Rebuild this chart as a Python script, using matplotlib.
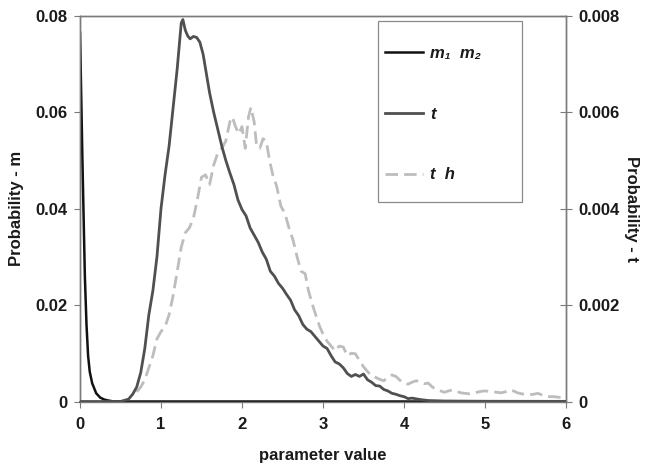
import matplotlib
matplotlib.use("Agg")
import matplotlib.pyplot as plt
from matplotlib.lines import Line2D
from matplotlib.patches import Rectangle

plt.rcParams['font.family'] = ['Liberation Sans', 'DejaVu Sans']
plt.rcParams['font.weight'] = 'bold'

# --- m posterior (left axis) ---
m_x = [0.0, 0.01, 0.02, 0.03, 0.04, 0.05, 0.06, 0.08, 0.10, 0.12, 0.15,
       0.20, 0.25, 0.30, 0.35, 0.40, 0.50, 6.0]
m_y = [0.0765, 0.068, 0.059, 0.050, 0.042, 0.034, 0.026, 0.016, 0.0095,
       0.0062, 0.0038, 0.0017, 0.0008, 0.0004, 0.0002, 0.00005, 0.0, 0.0]

# --- t posterior (right axis) ---
t_x = [0.0, 0.5, 0.6, 0.65, 0.7, 0.75, 0.8, 0.85, 0.9, 0.95, 1.0, 1.05,
       1.1, 1.15, 1.2, 1.25, 1.27, 1.3, 1.33, 1.36, 1.4, 1.44, 1.48, 1.52,
       1.56, 1.6, 1.65, 1.7, 1.75, 1.8, 1.85, 1.9, 1.95, 2.0, 2.05, 2.1,
       2.15, 2.2, 2.25, 2.3, 2.35, 2.4, 2.45, 2.5, 2.55, 2.6, 2.65, 2.7,
       2.75, 2.8, 2.85, 2.9, 2.95, 3.0, 3.05, 3.1, 3.15, 3.2, 3.25, 3.3,
       3.35, 3.4, 3.45, 3.5, 3.55, 3.6, 3.65, 3.7, 3.75, 3.8, 3.85, 3.9,
       3.95, 4.0, 4.05, 4.1, 4.2, 4.3, 4.5, 5.0, 6.0]
t_y = [0.0, 0.0, 0.00005, 0.00015, 0.0003, 0.0006, 0.0011, 0.0018,
       0.0023, 0.0030, 0.0040, 0.0047, 0.0053, 0.0061, 0.0069, 0.00785,
       0.00792, 0.0077, 0.00758, 0.00752, 0.00757, 0.00755, 0.00745,
       0.0072, 0.0068, 0.0064, 0.0060, 0.00565, 0.0053, 0.0050, 0.00474,
       0.0045, 0.00418, 0.00398, 0.00385, 0.0036, 0.00345, 0.0033, 0.0031,
       0.00295, 0.0027, 0.0026, 0.00245, 0.00235, 0.00222, 0.0021, 0.0019,
       0.00178, 0.0016, 0.0015, 0.00145, 0.00135, 0.00125, 0.00115,
       0.0011, 0.00095, 0.00082, 0.00078, 0.0007, 0.00058, 0.00052,
       0.00056, 0.00052, 0.00057, 0.00045, 0.0004, 0.00033, 0.00032,
       0.00025, 0.00022, 0.00017, 0.00015, 0.00012, 0.0001, 0.00006,
       0.00007, 0.00004, 0.00002, 0.00001, 0.000005, 0.000003]

# --- t posterior, second model (right axis) ---
th_x = [0.7, 0.75, 0.8, 0.85, 0.9, 0.95, 1.0, 1.05, 1.1, 1.15, 1.2, 1.25,
        1.3, 1.35, 1.4, 1.45, 1.5, 1.55, 1.6, 1.65, 1.7, 1.75, 1.8, 1.85,
        1.88, 1.92, 1.96, 2.0, 2.04, 2.08, 2.11, 2.15, 2.18, 2.22, 2.26,
        2.3, 2.34, 2.38, 2.43, 2.48, 2.53, 2.58, 2.63, 2.68, 2.73, 2.78,
        2.82, 2.88, 2.92, 2.96, 3.0, 3.05, 3.1, 3.15, 3.2, 3.25, 3.3, 3.35,
        3.4, 3.45, 3.5, 3.55, 3.6, 3.65, 3.7, 3.75, 3.8, 3.85, 3.9, 3.95,
        4.0, 4.05, 4.1, 4.15, 4.2, 4.25, 4.3, 4.35, 4.4, 4.45, 4.5, 4.55,
        4.6, 4.65, 4.7, 4.75, 4.8, 4.85, 4.9, 4.95, 5.0, 5.05, 5.1, 5.15,
        5.2, 5.25, 5.3, 5.35, 5.4, 5.45, 5.5, 5.55, 5.6, 5.65, 5.7, 5.75,
        5.8, 5.85, 5.9, 5.95, 6.0]
th_y = [0.0002, 0.0003, 0.00045, 0.0007, 0.00095, 0.0013, 0.00145,
        0.00155, 0.0018, 0.0022, 0.0027, 0.0032, 0.0035, 0.0036, 0.0038,
        0.0042, 0.00465, 0.0047, 0.0045, 0.0049, 0.00515, 0.00525, 0.0054,
        0.0058, 0.0059, 0.0057, 0.00555, 0.0057, 0.00525, 0.0059, 0.0061,
        0.0058, 0.0053, 0.00525, 0.00545, 0.0054, 0.0050, 0.0047, 0.00445,
        0.00405, 0.0039, 0.0036, 0.00335, 0.0030, 0.0027, 0.00265, 0.0023,
        0.00195, 0.00175, 0.00155, 0.0014, 0.00125, 0.00115, 0.00105,
        0.00115, 0.00113, 0.00095, 0.0010, 0.00099, 0.00085, 0.00072,
        0.00062, 0.00053, 0.0005, 0.00046, 0.00043, 0.0005, 0.00055,
        0.00052, 0.00044, 0.00038, 0.00036, 0.0004, 0.00043, 0.00041,
        0.00037, 0.00038, 0.0003, 0.00025, 0.00022, 0.00019, 0.00022,
        0.00024, 0.00021, 0.00018, 0.00017, 0.00016, 0.00017, 0.00019,
        0.00021, 0.00022, 0.00021, 0.0002, 0.00019, 0.00018, 0.0002,
        0.00024, 0.00022, 0.00018, 0.00016, 0.00015, 0.00014, 0.00015,
        0.00017, 0.00014, 0.00011, 0.0001, 0.0001, 0.00009, 0.00008,
        0.00008]

x_ticks = [0, 1, 2, 3, 4, 5, 6]
m_ticks = [0, 0.02, 0.04, 0.06, 0.08]
m_ticklabels = ['0', '0.02', '0.04', '0.06', '0.08']
t_ticks = [0, 0.002, 0.004, 0.006, 0.008]
t_ticklabels = ['0', '0.002', '0.004', '0.006', '0.008']
series_labels = ['m\u2081  m\u2082', 't', 't  h']

text_color = '#1a1a1a'
spine_color = '#7a7a7a'
fs = 12
W, H = 646, 467

fig = plt.figure(figsize=(W / 100, H / 100), dpi=100)
ax = fig.add_axes([80 / W, 1 - 401.5 / H, 486 / W, 385.8 / H])
ax2 = ax.twinx()

ax.plot(m_x, m_y, color='#111111', lw=1.8, zorder=3)
ax2.plot(th_x, th_y, color='#bdbdbd', lw=2.0, dashes=(4.5, 2.2), zorder=2)
ax2.plot(t_x, t_y, color='#505050', lw=2.0, zorder=3)

ax.set_xlim(0, 6)
ax.set_ylim(0, 0.08)
ax2.set_ylim(0, 0.008)

ax.set_xticks(x_ticks)
ax.set_xticklabels([str(v) for v in x_ticks])
ax.set_yticks(m_ticks)
ax.set_yticklabels(m_ticklabels)
ax2.set_yticks(t_ticks)
ax2.set_yticklabels(t_ticklabels)

for a in (ax, ax2):
    for s in a.spines.values():
        s.set_color(spine_color)
        s.set_linewidth(1.0)
ax.spines['bottom'].set_color('#555555')
ax.spines['bottom'].set_linewidth(1.3)

ax.tick_params(axis='x', direction='out', length=4, width=0.8, color=spine_color,
               labelsize=fs, labelcolor=text_color, pad=7)
ax.tick_params(axis='y', direction='out', length=4, width=0.8, color=spine_color,
               labelsize=fs, labelcolor=text_color, pad=5)
ax2.tick_params(axis='y', direction='inout', length=8, width=0.8, color=spine_color,
                labelsize=fs, labelcolor=text_color, pad=5)

ax.set_xlabel('parameter value', fontsize=fs, fontweight='bold', color=text_color,
              labelpad=12)
ax.set_ylabel('Probability - m', fontsize=fs, fontweight='bold', color=text_color,
              labelpad=8)
ax2.set_ylabel('Probability - t', fontsize=fs, fontweight='bold', color=text_color,
               rotation=270, labelpad=14)

# legend box frame
frame = Rectangle((378 / W, 1 - 202 / H), 144 / W, 181 / H,
                  transform=fig.transFigure, facecolor='white',
                  edgecolor='#8a8a8a', linewidth=0.9, zorder=4)
fig.add_artist(frame)

handles = [
    Line2D([], [], color='#111111', lw=1.8),
    Line2D([], [], color='#505050', lw=2.0),
    Line2D([], [], color='#bdbdbd', lw=2.0, dashes=(4.5, 2.2)),
]
leg = fig.legend(handles, series_labels, loc='upper left',
                 bbox_to_anchor=(385 / W, 1 - 46 / H),
                 frameon=False, handlelength=2.3, handletextpad=0.42,
                 labelspacing=2.74, borderpad=0, borderaxespad=0,
                 prop={'size': fs, 'weight': 'bold', 'style': 'italic'})
leg.set_zorder(5)
for t in leg.get_texts():
    t.set_color(text_color)

fig.savefig('out.png', dpi=100, facecolor='white')
